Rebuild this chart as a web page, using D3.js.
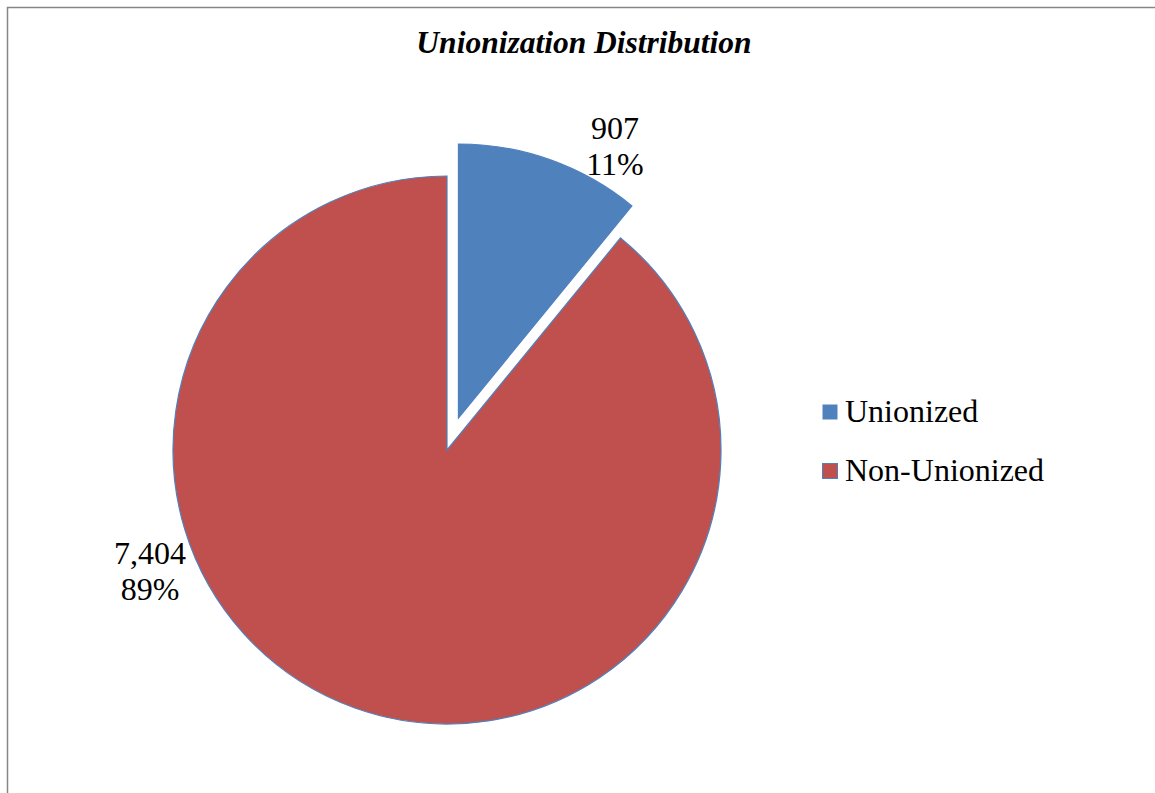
<!DOCTYPE html>
<html>
<head>
<meta charset="utf-8">
<script src="https://cdn.jsdelivr.net/npm/d3@7/dist/d3.min.js"></script>
<style>
  html, body { margin: 0; padding: 0; background: #fff; }
  svg { display: block; }
</style>
</head>
<body>
<svg id="chart" width="1155" height="793"></svg>
<script>
const categories = ["Unionized", "Non-Unionized"];
const values = [907, 7404];
const percentLabels = ["11%", "89%"];
const colors = ["#4F81BD", "#C0504D"];
const titleText = "Unionization Distribution";

const svg = d3.select("#chart");
const W = 1155, H = 793;
const font = "Liberation Serif";

// chart border (extends beyond right/bottom)
svg.append("rect")
  .attr("x", 7.5).attr("y", 7.5)
  .attr("width", W + 20).attr("height", H + 20)
  .attr("fill", "none").attr("stroke", "#868686").attr("stroke-width", 1.5);

// title
svg.append("text")
  .attr("x", 584).attr("y", 53)
  .attr("text-anchor", "middle")
  .style("font-family", font)
  .style("font-weight", "bold").style("font-style", "italic")
  .style("font-size", "31.5px")
  .text(titleText);

const cx = 447, cy = 450, R = 274;
const explode = [34, 0];

const pie = d3.pie().sort(null).value(d => d.value);
const arcs = pie(categories.map((c, i) => ({ name: c, value: values[i], i })));
const arc = d3.arc().innerRadius(0).outerRadius(R);

const g = svg.append("g").attr("transform", `translate(${cx},${cy})`);

arcs.forEach((a, i) => {
  const mid = (a.startAngle + a.endAngle) / 2;
  const dx = Math.sin(mid) * explode[i], dy = -Math.cos(mid) * explode[i];
  g.append("path")
    .attr("d", arc(a))
    .attr("transform", `translate(${dx},${dy})`)
    .attr("fill", colors[i])
    .attr("stroke", "#4F81BD")
    .attr("stroke-width", 1.2);
});

// data labels (outside end)
const fmt = d3.format(",");
const labelPos = [[615, 139], [150, 564]];
arcs.forEach((a, i) => {
  const t = svg.append("text")
    .style("font-family", font).style("font-size", "32px")
    .attr("text-anchor", "middle").attr("fill", "#000");
  t.append("tspan").attr("x", labelPos[i][0]).attr("y", labelPos[i][1]).text(fmt(values[i]));
  t.append("tspan").attr("x", labelPos[i][0]).attr("y", labelPos[i][1] + 36).text(percentLabels[i]);
});

// legend
const legend = svg.append("g").attr("transform", "translate(822,404)");
categories.forEach((c, i) => {
  const row = legend.append("g").attr("transform", `translate(0,${i * 59})`);
  row.append("rect").attr("x", 0.5).attr("y", 0.5).attr("width", 15).attr("height", 15)
    .attr("fill", colors[i]).attr("stroke", i === 1 ? "#4F81BD" : "none").attr("stroke-width", 1);
  row.append("text").attr("x", 23).attr("y", 18)
    .style("font-family", font).style("font-size", "32px").attr("fill", "#000")
    .text(c);
});
</script>
</body>
</html>
